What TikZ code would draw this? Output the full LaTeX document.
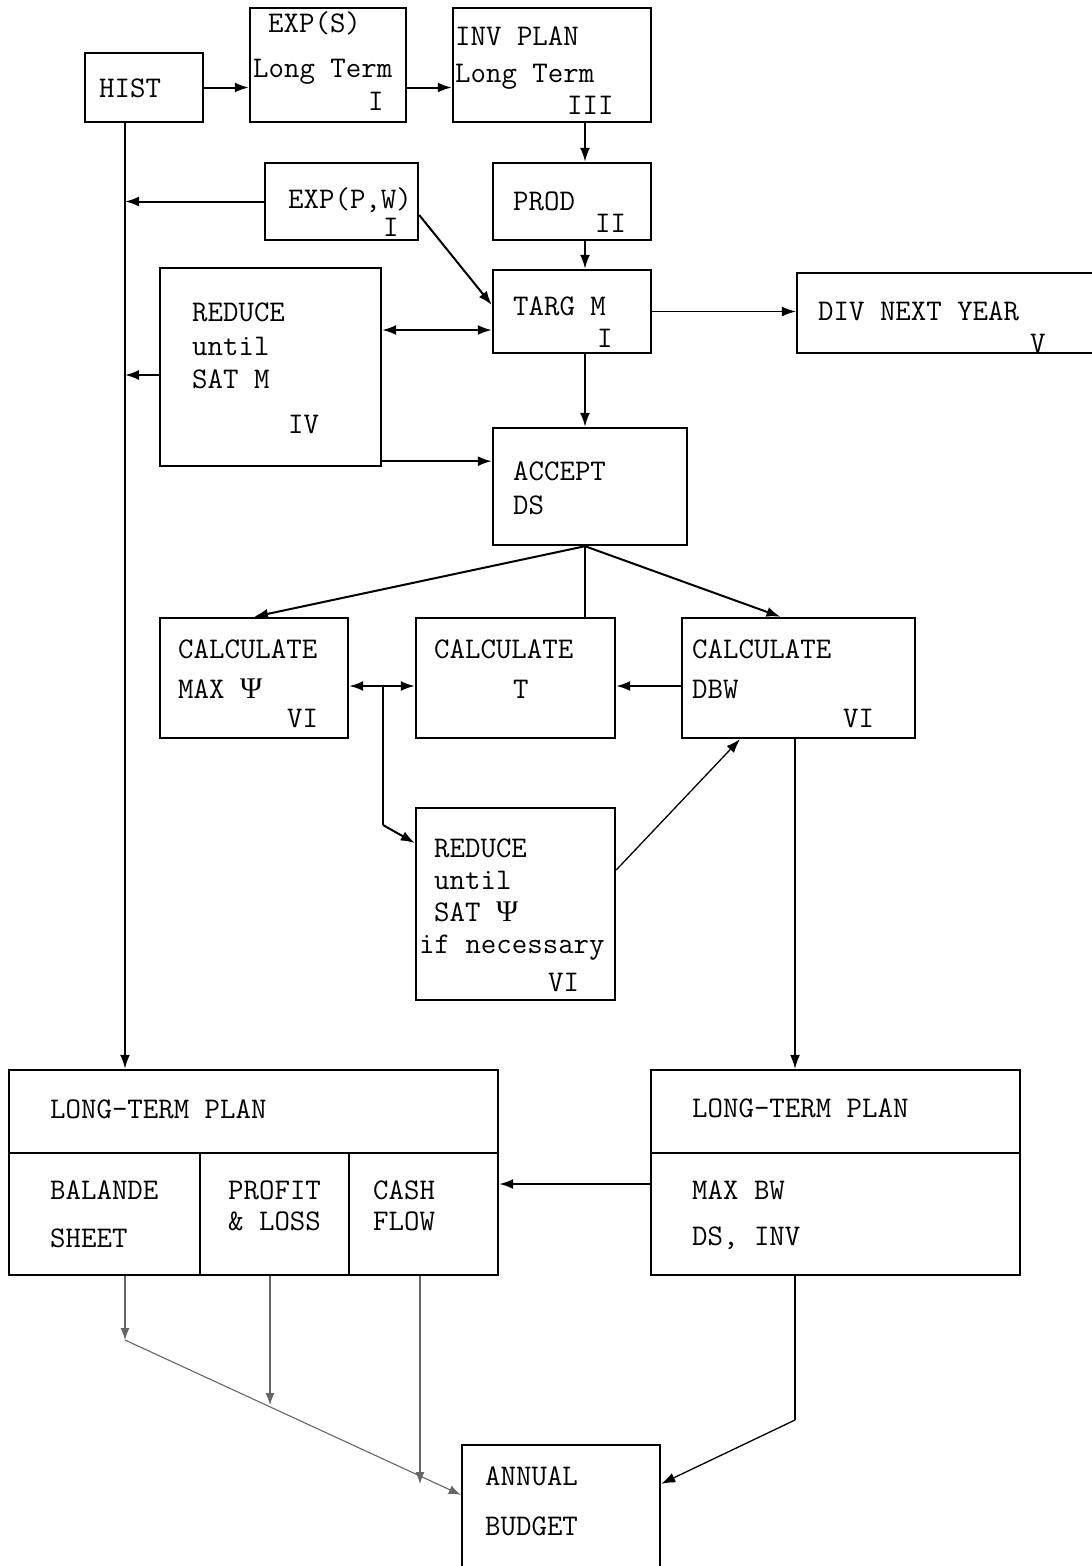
\documentclass[tikz,border=0pt]{standalone}
\usepackage{fontspec}
\newfontfamily\grk{Liberation Serif}
\usetikzlibrary{arrows.meta,calc}
\newcommand{\mkbox}[5]{\node[box, minimum width={(#4)-(#2)}, minimum height={(#5)-(#3)}] (#1) at ({((#2)+(#4))/2},{((#3)+(#5))/2}) {};}
\newcommand{\tx}[4]{\node[lbl] (#1) at (#2,#3) {#4};}
\newcommand{\psig}{{\grk Ψ}}
\tikzset{
  box/.style={draw, line width=2.4pt, inner sep=0pt, rectangle},
  lbl/.style={font=\ttfamily\fontsize{30}{30}\selectfont, inner sep=0pt, anchor=base west},
  arr/.style={line width=2pt, -{Latex[length=14pt,width=10pt]}},
  darr/.style={line width=2pt, {Latex[length=14pt,width=10pt]}-{Latex[length=14pt,width=10pt]}},
  ln/.style={line width=2pt},
  thinarr/.style={line width=1.3pt, -{Latex[length=14pt,width=10pt]}},
  grayarr/.style={line width=1.1pt, draw=black!60, -{Latex[length=12pt,width=9pt]}},
}
\begin{document}
\begin{tikzpicture}[x=1pt,y=-1pt]
\useasboundingbox (0,0) rectangle (1092,1566);
% boxes
\mkbox{hist}{85}{53}{203}{122}
\mkbox{exps}{250}{8}{406}{122}
\mkbox{inv}{453}{8}{651}{122}
\mkbox{exppw}{265}{163}{418}{240}
\mkbox{prod}{493}{163}{651}{240}
\mkbox{targ}{493}{270}{651}{353}
\mkbox{div}{797}{273}{1110}{353}
\mkbox{redm}{160}{268}{381}{466}
\mkbox{acc}{493}{428}{687}{545}
\mkbox{cmax}{160}{618}{348}{738}
\mkbox{ct}{416}{618}{615}{738}
\mkbox{cdbw}{682}{618}{915}{738}
\mkbox{rpsi}{416}{808}{615}{1000}
\mkbox{ltl}{9}{1070}{498}{1275}
\mkbox{rlt}{651}{1070}{1020}{1275}
\mkbox{bud}{462}{1445}{660}{1600}
% dividers
\draw[line width=2.4pt] (ltl.west |- 0,1153) -- (ltl.east |- 0,1153);
\draw[line width=1.3pt] (200,1153) -- (200,1275);
\draw[line width=1.3pt] (349,1153) -- (349,1275);
\draw[line width=2.4pt] (rlt.west |- 0,1153) -- (rlt.east |- 0,1153);
% texts
\tx{t1}{99}{97}{HIST}
\tx{t2}{268}{32}{EXP(S)}
\tx{t3}{253}{77}{Long Term}
\tx{t4}{368}{110}{I}
\tx{t5}{455}{45}{INV PLAN}
\tx{t6}{455}{82}{Long Term}
\tx{t7}{567}{114}{III}
\tx{t8}{288}{208}{EXP(P,W)}
\tx{t9}{383}{236}{I}
\tx{t10}{513}{210}{PROD}
\tx{t11}{595}{232}{II}
\tx{t12}{513}{315}{TARG M}
\tx{t13}{597}{347}{I}
\tx{t14}{818}{320}{DIV NEXT YEAR}
\tx{t15}{1030}{352}{V}
\tx{t16}{192}{321}{REDUCE}
\tx{t17}{192}{355}{until}
\tx{t18}{192}{388}{SAT M}
\tx{t19}{288}{433}{IV}
\tx{t20}{513}{480}{ACCEPT}
\tx{t21}{513}{514}{DS}
\tx{t22}{178}{658}{CALCULATE}
\tx{t23}{178}{698}{MAX \psig}
\tx{t24}{287}{727}{VI}
\tx{t25}{434}{658}{CALCULATE}
\tx{t26}{513}{698}{T}
\tx{t27}{692}{658}{CALCULATE}
\tx{t28}{692}{698}{DBW}
\tx{t29}{843}{727}{VI}
\tx{t30}{434}{857}{REDUCE}
\tx{t31}{434}{889}{until}
\tx{t32}{434}{921}{SAT \psig}
\tx{t33}{419}{953}{if necessary}
\tx{t34}{548}{991}{VI}
\tx{t35}{50}{1118}{LONG-TERM PLAN}
\tx{t36}{50}{1199}{BALANDE}
\tx{t37}{50}{1247}{SHEET}
\tx{t38}{228}{1199}{PROFIT}
\tx{t39}{228}{1230}{\& LOSS}
\tx{t40}{373}{1199}{CASH}
\tx{t41}{373}{1230}{FLOW}
\tx{t42}{692}{1117}{LONG-TERM PLAN}
\tx{t43}{692}{1199}{MAX BW}
\tx{t44}{692}{1245}{DS, INV}
\tx{t45}{485}{1485}{ANNUAL}
\tx{t46}{485}{1535}{BUDGET}
% helper coordinates
\coordinate (hx) at (125,0);
\coordinate (cx) at (585,0);
\coordinate (jx) at (383,0);
\coordinate (bx) at (795,0);
% connectors
\draw[arr] (hist.east) -- (hist.east -| exps.west);
\draw[arr] (hist.east -| exps.east) -- (hist.east -| inv.west);
\draw[arr] (inv.south -| cx) -- (prod.north -| cx);
\draw[arr] (hist.south -| hx) -- (ltl.north -| hx);
\draw[arr] (exppw.west) -- (exppw.west -| hx);
\draw[arr] ([yshift=-13.5pt]exppw.east) -- ([yshift=6.5pt]targ.west);
\draw[arr] (prod.south -| cx) -- (targ.north -| cx);
\draw[thinarr] (targ.east) -- (targ.east -| div.west);
\draw[darr] ([yshift=-18.5pt]targ.west) -- ([yshift=-18.5pt]targ.west -| redm.east);
\draw[arr] ([yshift=-8pt]redm.west) -- ([yshift=-8pt]redm.west -| hx);
\draw[arr] ([yshift=6pt]redm.south east) -- ([yshift=6pt]redm.south east -| acc.west);
\draw[arr] (targ.south -| cx) -- (acc.north -| cx);
\draw[arr] (acc.south -| cx) -- (cmax.north);
\draw[ln] (acc.south -| cx) -- (ct.north -| cx);
\draw[arr] (acc.south -| cx) -- ([xshift=-18pt]cdbw.north);
\draw[arr] ([yshift=-8pt]cdbw.west) -- ([yshift=-8pt]cdbw.west -| ct.east);
\draw[darr] ([yshift=-8pt]cmax.east) -- ([yshift=-8pt]cmax.east -| ct.west);
\coordinate (jtop) at ([yshift=-8pt]cmax.east -| jx);
\coordinate (jbot) at (383,825);
\draw[ln] (jtop) -- (jbot);
\draw[arr] (jbot) -- ([yshift=61pt]rpsi.west);
\draw[thinarr] ([yshift=34pt]rpsi.east) -- ([xshift=-58.5pt]cdbw.south);
\draw[thinarr] (cdbw.south -| bx) -- (rlt.north -| bx);
\draw[arr] ([yshift=-11.5pt]rlt.west) -- ([yshift=-11.5pt]rlt.west -| ltl.east);
% lower part
\coordinate (g1) at (125,1340);
\coordinate (g2) at (270,1405);
\coordinate (g3) at (420,1484);
\coordinate (rb) at (795,1420);
\draw[grayarr] (ltl.south -| hx) -- (g1);
\draw[grayarr] (ltl.south -| g2) -- (g2);
\draw[grayarr] (ltl.south -| g3) -- (g3);
\draw[grayarr] (g1) -- ([yshift=-51pt]bud.north west);
\draw[line width=1.3pt] (rlt.south -| bx) -- (rb);
\draw[thinarr] (rb) -- ([yshift=-40pt]bud.north east);
\end{tikzpicture}
\end{document}
